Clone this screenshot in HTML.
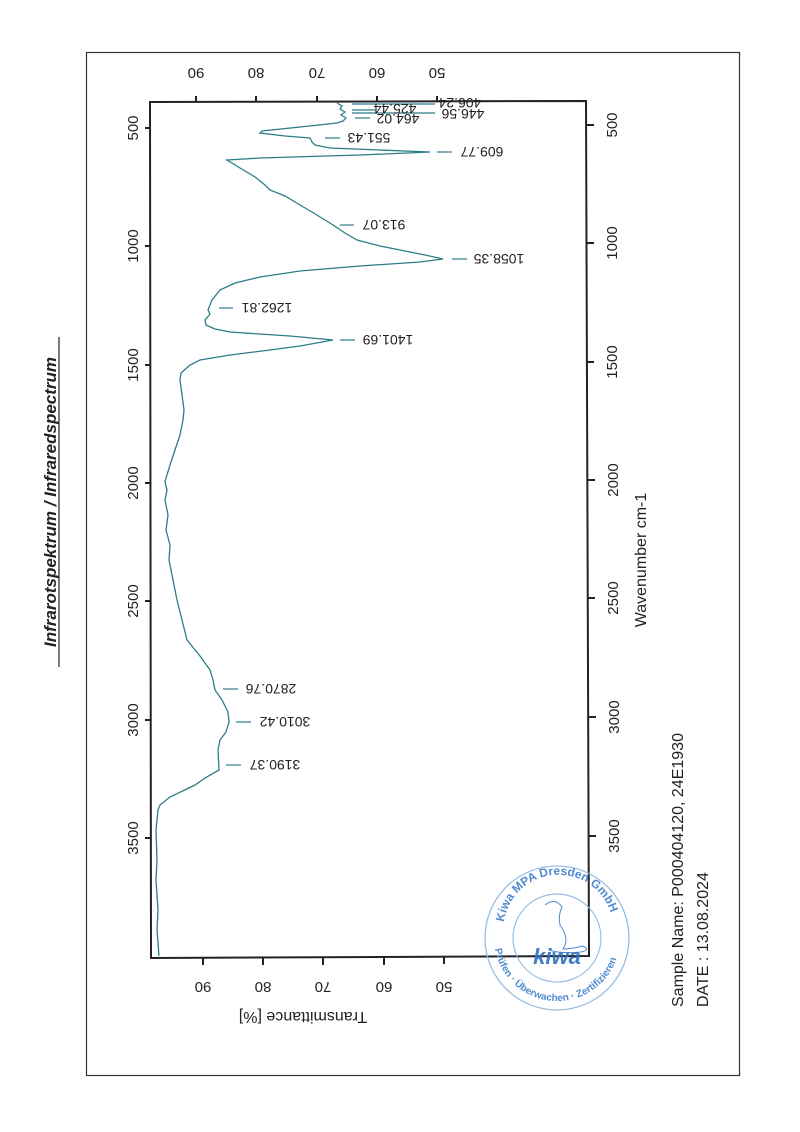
<!DOCTYPE html>
<html><head><meta charset="utf-8"><style>
html,body{margin:0;padding:0;background:#fff}
svg{display:block}
text{font-family:"Liberation Sans",Arial,sans-serif;fill:#222}
</style></head><body>
<svg width="800" height="1132" viewBox="0 0 800 1132" xmlns="http://www.w3.org/2000/svg">
<rect x="0" y="0" width="800" height="1132" fill="#fff"/>
<rect x="86.5" y="52.5" width="653" height="1023" fill="none" stroke="#333" stroke-width="1.2"/>
<text transform="translate(56,502) rotate(-90)" text-anchor="middle" font-size="17" font-style="italic" font-weight="bold" fill="#333">Infrarotspektrum / Infraredspectrum</text>
<line x1="59" y1="667" x2="59" y2="337" stroke="#333" stroke-width="1.3"/>
<polygon points="150,102 586,101 589,956 151,958" fill="none" stroke="#222" stroke-width="2"/>
<g stroke="#222" stroke-width="2">
<line x1="145" y1="128" x2="150" y2="128"/><line x1="145" y1="246" x2="150" y2="246"/><line x1="145" y1="365" x2="150" y2="365"/><line x1="145" y1="483" x2="150" y2="483"/><line x1="145" y1="601" x2="150" y2="601"/><line x1="145" y1="720" x2="150" y2="720"/><line x1="145" y1="838" x2="150" y2="838"/>
<line x1="587" y1="125" x2="594" y2="125"/><line x1="587" y1="243" x2="594" y2="243"/><line x1="587" y1="362" x2="594" y2="362"/><line x1="588" y1="480" x2="595" y2="480"/><line x1="588" y1="598" x2="595" y2="598"/><line x1="589" y1="717" x2="596" y2="717"/><line x1="589" y1="836" x2="596" y2="836"/>
<line x1="196" y1="96" x2="196" y2="102"/><line x1="256" y1="96" x2="256" y2="102"/><line x1="317" y1="96" x2="317" y2="102"/><line x1="377" y1="96" x2="377" y2="102"/><line x1="437" y1="96" x2="437" y2="102"/>
<line x1="203" y1="957" x2="203" y2="965"/><line x1="263" y1="957" x2="263" y2="965"/><line x1="323" y1="957" x2="323" y2="965"/><line x1="384" y1="957" x2="384" y2="965"/><line x1="444" y1="956" x2="444" y2="964"/>
</g>
<g font-size="15">
<text transform="translate(138,128) rotate(-90)" text-anchor="middle">500</text>
<text transform="translate(138,246) rotate(-90)" text-anchor="middle">1000</text>
<text transform="translate(138,365) rotate(-90)" text-anchor="middle">1500</text>
<text transform="translate(138,483) rotate(-90)" text-anchor="middle">2000</text>
<text transform="translate(138,601) rotate(-90)" text-anchor="middle">2500</text>
<text transform="translate(138,720) rotate(-90)" text-anchor="middle">3000</text>
<text transform="translate(138,838) rotate(-90)" text-anchor="middle">3500</text>
<text transform="translate(617,125) rotate(-90)" text-anchor="middle">500</text>
<text transform="translate(617,243) rotate(-90)" text-anchor="middle">1000</text>
<text transform="translate(617,362) rotate(-90)" text-anchor="middle">1500</text>
<text transform="translate(618,480) rotate(-90)" text-anchor="middle">2000</text>
<text transform="translate(618,598) rotate(-90)" text-anchor="middle">2500</text>
<text transform="translate(619,717) rotate(-90)" text-anchor="middle">3000</text>
<text transform="translate(619,836) rotate(-90)" text-anchor="middle">3500</text>
<text transform="translate(196,68) rotate(180)" text-anchor="middle">90</text>
<text transform="translate(256,68) rotate(180)" text-anchor="middle">80</text>
<text transform="translate(317,68) rotate(180)" text-anchor="middle">70</text>
<text transform="translate(377,68) rotate(180)" text-anchor="middle">60</text>
<text transform="translate(437,68) rotate(180)" text-anchor="middle">50</text>
<text transform="translate(203,982) rotate(180)" text-anchor="middle">90</text>
<text transform="translate(263,982) rotate(180)" text-anchor="middle">80</text>
<text transform="translate(323,982) rotate(180)" text-anchor="middle">70</text>
<text transform="translate(384,982) rotate(180)" text-anchor="middle">60</text>
<text transform="translate(444,982) rotate(180)" text-anchor="middle">50</text>
</g>
<text transform="translate(303,1012) rotate(180)" text-anchor="middle" font-size="16">Transmittance [%]</text>
<text transform="translate(646,560) rotate(-90)" text-anchor="middle" font-size="16">Wavenumber cm-1</text>
<text transform="translate(683,1007) rotate(-90)" font-size="16">Sample Name: P000404120, 24E1930</text>
<text transform="translate(708,1007) rotate(-90)" font-size="16">DATE : 13.08.2024</text>
<polyline fill="none" stroke="#2c7d88" stroke-width="1.3" points="
337,103 342,106 340,109 345,112 341,115 346,118 343,121 337,123 300,127 262,131 260,133 285,136 310,138 312,142 315,145 330,148 380,150 430,152 360,155 260,158 227,160
240,168 255,177 265,185 270,190 285,196 300,205 312,212 325,220 333,225 345,233 357,240 380,246 400,250 425,255 443,259 420,262 360,266 300,271 260,277 235,283 220,290 212,300 208,310 210,314 205,320 206,325 215,329 230,332 290,336 333,340 300,346 270,350 230,355 200,360 190,365 181,373
180,380 182,395 184,410 183,420 180,435 175,450 170,465 166,478 165,482 167,490 165,500 168,515 166,530 170,545 169,560 172,575 175,590 177,600 182,620 187,640 200,656 210,670 213,680 215,690 222,700 228,712 229,722 226,732 220,740 218,750 219,770 205,778 195,785 170,797 160,805 158,810 156,830 157,860 156,880 158,910 157,930 159,956"/>
<g stroke="#2c7d88" stroke-width="1.2">
<line x1="352" y1="104" x2="435" y2="104"/>
<line x1="352" y1="110" x2="375" y2="110"/>
<line x1="352" y1="113" x2="435" y2="113"/>
<line x1="355" y1="118" x2="370" y2="118"/>
<line x1="325" y1="138" x2="340" y2="138"/>
<line x1="437" y1="152" x2="452" y2="152"/>
<line x1="340" y1="225" x2="354" y2="225"/>
<line x1="452" y1="259" x2="467" y2="259"/>
<line x1="219" y1="308" x2="233" y2="308"/>
<line x1="340" y1="340" x2="355" y2="340"/>
<line x1="223" y1="689" x2="238" y2="689"/>
<line x1="236" y1="722" x2="251" y2="722"/>
<line x1="226" y1="765" x2="241" y2="765"/>
</g>
<g font-size="14">
<text transform="translate(460,103) rotate(180)" text-anchor="middle" dominant-baseline="central">406.24</text>
<text transform="translate(395,109) rotate(180)" text-anchor="middle" dominant-baseline="central">425.44</text>
<text transform="translate(463,114) rotate(180)" text-anchor="middle" dominant-baseline="central">446.56</text>
<text transform="translate(398,119) rotate(180)" text-anchor="middle" dominant-baseline="central">464.02</text>
<text transform="translate(369,138) rotate(180)" text-anchor="middle" dominant-baseline="central">551.43</text>
<text transform="translate(482,152) rotate(180)" text-anchor="middle" dominant-baseline="central">609.77</text>
<text transform="translate(384,225) rotate(180)" text-anchor="middle" dominant-baseline="central">913.07</text>
<text transform="translate(499,259) rotate(180)" text-anchor="middle" dominant-baseline="central">1058.35</text>
<text transform="translate(267,308) rotate(180)" text-anchor="middle" dominant-baseline="central">1262.81</text>
<text transform="translate(388,340) rotate(180)" text-anchor="middle" dominant-baseline="central">1401.69</text>
<text transform="translate(271,689) rotate(180)" text-anchor="middle" dominant-baseline="central">2870.76</text>
<text transform="translate(285,722) rotate(180)" text-anchor="middle" dominant-baseline="central">3010.42</text>
<text transform="translate(275,765) rotate(180)" text-anchor="middle" dominant-baseline="central">3190.37</text>
</g>
<g opacity="0.9">
<circle cx="557" cy="938" r="72" fill="none" stroke="#8fb6e0" stroke-width="1.3"/>
<circle cx="557" cy="938" r="44" fill="none" stroke="#8fb6e0" stroke-width="1.2"/>
<defs>
<path id="arcTop" d="M 504,922 A 55,55 0 1,1 611,946"/>
<path id="arcBot" d="M 495,949 A 63,63 0 0,0 618,954"/>
</defs>
<text font-size="12" font-weight="bold" style="fill:#3f7fcc"><textPath href="#arcTop">Kiwa MPA Dresden GmbH</textPath></text>
<text font-size="10" font-weight="bold" style="fill:#3f7fcc"><textPath href="#arcBot">Prüfen · Überwachen · Zertifizieren</textPath></text>
<path d="M545,905 q10,-8 17,2 q-4,8 -2,18 q10,14 3,24 q8,0 20,-3 q8,4 -2,6 q-20,2 -32,-2" fill="none" stroke="#3f7fcc" stroke-width="1"/>
<text x="557" y="964" text-anchor="middle" font-size="22" font-weight="bold" font-style="italic" style="fill:#2f6fc0">kiwa</text>
</g>
</svg>
</body></html>
